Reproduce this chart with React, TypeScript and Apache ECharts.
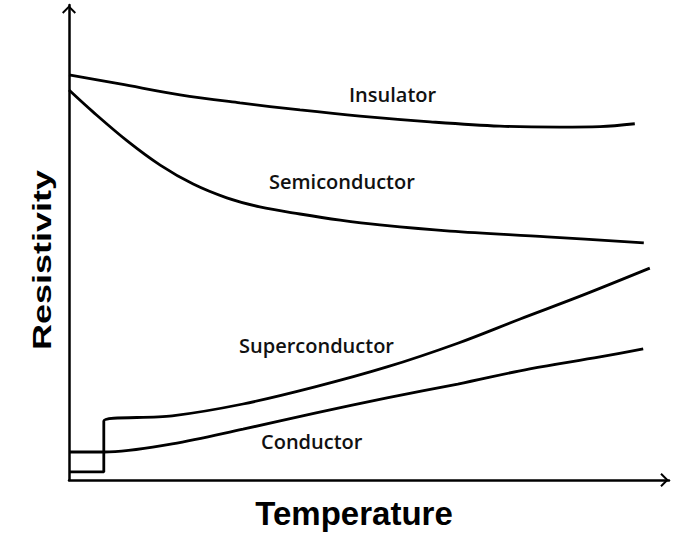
import React, { useEffect, useRef } from 'react';
import * as echarts from 'echarts';

// temperature (0-100) / resistivity (0-100)
const insulator = [[0, 85.3], [8.5, 83.4], [18.5, 81.1], [28.5, 79.4], [38.5, 77.9], [48.5, 76.6], [60.2, 75.4], [71.8, 74.5], [81.8, 74.3], [88.5, 74.4], [94.3, 75]];
const semiconductor = [[0, 82.1], [4, 77.5], [9.7, 71.4], [15.2, 66.3], [20.7, 62.3], [26.3, 59.4], [31.8, 57.5], [38.5, 56], [45.2, 54.7], [51.8, 53.7], [63.5, 52.4], [79.7, 51.2], [95.8, 49.9]];
// the jump at the transition temperature is kept sharp by repeating its two corners
const superconductor = [[0, 1.7], [5.8, 1.7], [5.8, 1.7], [5.8, 12.4], [5.8, 12.4], [17.2, 13.5], [29, 16], [41, 19.6], [53, 23.8], [64.8, 28.8], [75.2, 33.9], [85.2, 38.7], [96.8, 44.6]];
const conductor = [[0, 5.9], [5.8, 5.9], [5.8, 5.9], [17.2, 7.6], [29, 10.7], [41, 14.1], [53, 17.3], [64.8, 20.2], [76.8, 23.4], [88.5, 25.9], [95.7, 27.6]];

const seriesNames = ['Insulator', 'Semiconductor', 'Superconductor', 'Conductor'];
const xName = 'Temperature';
const yName = 'Resistivity';

const chevron = 'path://M0,10 L10,0 L20,10 L18,12 L10,4 L2,12 Z';

export default function App() {
  const ref = useRef<HTMLDivElement>(null);
  useEffect(() => {
    if (!ref.current) return;
    const chart = echarts.init(ref.current, null, { renderer: 'svg' });
    const axisCommon = {
      type: 'value' as const,
      min: 0,
      max: 100,
      axisLine: {
        show: true,
        symbol: ['none', chevron],
        symbolSize: [14, 9],
        symbolOffset: [0, -4.5],
        lineStyle: { color: '#000', width: 2.5 },
      },
      axisTick: { show: false },
      axisLabel: { show: false },
      splitLine: { show: false },
    };
    const line = (name: string, data: number[][]) => ({
      name,
      type: 'line' as const,
      data,
      smooth: 0.35,
      showSymbol: false,
      symbol: 'none',
      lineStyle: { color: '#000', width: 2.8 },
    });
    const label = (text: string, x: number, y: number) => ({
      type: 'text' as const,
      x,
      y,
      style: {
        text,
        fill: '#111',
        font: '600 20px "Open Sans", "Noto Sans", sans-serif',
        textAlign: 'left',
        textVerticalAlign: 'middle',
      },
    });
    chart.setOption({
      animation: false,
      backgroundColor: '#fff',
      grid: { left: 69, right: 15, top: 5, bottom: 62 },
      xAxis: axisCommon,
      yAxis: axisCommon,
      series: [
        line(seriesNames[0], insulator),
        line(seriesNames[1], semiconductor),
        line(seriesNames[2], superconductor),
        line(seriesNames[3], conductor),
      ],
      graphic: [
        label(seriesNames[0], 349, 94),
        label(seriesNames[1], 269, 181),
        label(seriesNames[2], 239, 345),
        label(seriesNames[3], 261, 441),
        {
          type: 'text',
          x: 354,
          y: 513,
          style: {
            text: xName,
            fill: '#000',
            font: 'bold 33px "Liberation Sans", Arial, sans-serif',
            textAlign: 'center',
            textVerticalAlign: 'middle',
          },
        },
        {
          type: 'text',
          x: 42,
          y: 260,
          rotation: Math.PI / 2,
          scaleY: 0.74,
          style: {
            text: yName,
            fill: '#000',
            font: 'bold 36px "Liberation Sans", Arial, sans-serif',
            textAlign: 'center',
            textVerticalAlign: 'middle',
          },
        },
      ],
    });
    return () => chart.dispose();
  }, []);
  return <div ref={ref} style={{ position: 'fixed', left: 0, top: 0, width: 684, height: 542 }} />;
}
